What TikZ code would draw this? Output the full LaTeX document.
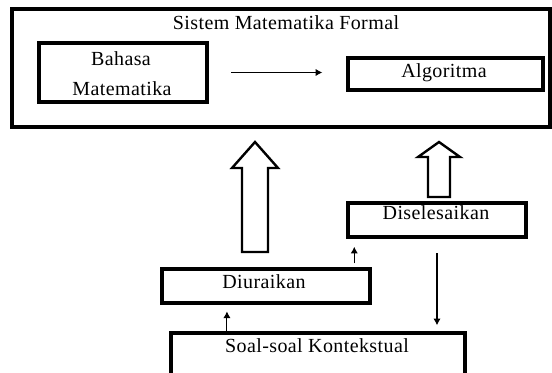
\documentclass[tikz,border=0pt]{standalone}
\usepackage{fontspec}
\setmainfont{Liberation Serif}[LetterSpace=2]
\usetikzlibrary{arrows.meta}
\begin{document}
\begin{tikzpicture}[x=0.75pt,y=-0.75pt,
  outerbox/.style={draw, line width=3.2pt, rectangle, inner sep=0pt},
  box/.style={draw, line width=2.6pt, rectangle, inner sep=0pt},
  lbl/.style={anchor=base, inner sep=0pt, font=\fontsize{15pt}{17pt}\selectfont},
  arr/.style={line width=0.8pt, -{Latex[length=5pt,width=5.5pt]}},
  hollow/.style={draw, line width=1.8pt, line join=miter, fill=white}]
\useasboundingbox (0,0) rectangle (552,372);
\clip (0,0) rectangle (552,372);
% boxes
\node[outerbox, minimum width=403.5pt, minimum height=88.5pt] (outer) at (281,68) {};
\node[box, minimum width=126pt, minimum height=44.25pt] (bahasa) at (123,72.5) {};
\node[box, minimum width=146.25pt, minimum height=24pt] (algo) at (445.5,74) {};
\node[box, minimum width=133.5pt, minimum height=25.5pt] (dis) at (437,220) {};
\node[box, minimum width=156pt, minimum height=25.5pt] (diu) at (266,286) {};
\node[box, minimum width=220.5pt, minimum height=52.5pt] (soal) at (318,368) {};
% labels
\node[lbl] (tTitle) at (286,29.5) {Sistem Matematika Formal};
\node[lbl] (tBahasa) at (121,65) {Bahasa};
\node[lbl] (tMat) at (122,95) {Matematika};
\node[lbl] (tAlgo) at (444,77) {Algoritma};
\node[lbl] (tDis) at (436,219) {Diselesaikan};
\node[lbl] (tDiu) at (264,288) {Diuraikan};
\node[lbl] (tSoal) at (317,352) {Soal-soal Kontekstual};
% hollow arrows
\draw[hollow] (255,142) -- (278,168) -- (268,168) -- (268,252) -- (242,252) -- (242,168) -- (232,168) -- cycle;
\draw[hollow] (439,142) -- (460,157) -- (450,157) -- (450,197) -- (428,197) -- (428,157) -- (418,157) -- cycle;
% thin arrows
\draw[arr, shorten <=17pt, shorten >=18pt] (bahasa.east) -- (bahasa.east -| algo.west);
\coordinate (p1) at ([xshift=6pt]dis.south west);
\draw[arr, shorten <=3pt, shorten >=6pt] (p1 |- diu.north) -- (p1);
\coordinate (p2) at ([xshift=50pt]diu.south west);
\draw[arr, shorten >=5pt] (p2 |- soal.north) -- (p2);
\draw[arr, shorten <=11pt, shorten >=4.5pt] (dis.south) -- (dis.south |- soal.north);
\end{tikzpicture}
\end{document}
